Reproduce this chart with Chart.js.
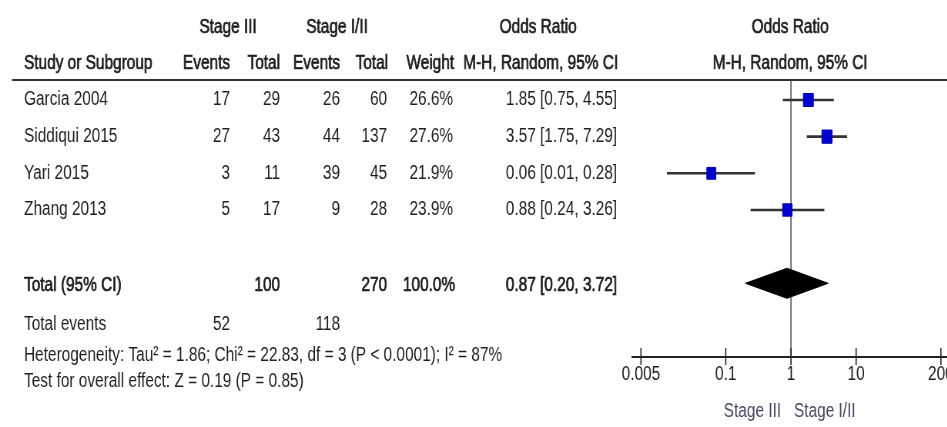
<!DOCTYPE html>
<html>
<head>
<meta charset="utf-8">
<script src="https://cdn.jsdelivr.net/npm/chart.js@4/dist/chart.umd.min.js"></script>
<style>
  html, body { margin: 0; padding: 0; background: #fff; overflow: hidden; }
  #forest { display: block; }
</style>
</head>
<body>
<canvas id="forest" width="1244" height="427" style="width:957.78px;height:427px"></canvas>
<script>
// Study data (Stage III vs Stage I/II)
const studies = ["Garcia 2004", "Siddiqui 2015", "Yari 2015", "Zhang 2013"];
const eventsStageIII = [17, 27, 3, 5];
const totalStageIII = [29, 43, 11, 17];
const eventsStageI = [26, 44, 39, 9];
const totalStageI = [60, 137, 45, 28];
const weights = [26.6, 27.6, 21.9, 23.9];
const oddsRatios = [1.85, 3.57, 0.06, 0.88];
const ciLow = [0.75, 1.75, 0.0125, 0.24];
const ciHigh = [4.55, 7.29, 0.28, 3.26];

// Pooled result
const pooledTotals = [100, 270];
const pooledWeight = 100.0;
const pooledOR = 0.87;
const pooledLow = 0.2;
const pooledHigh = 3.72;
const totalEvents = [52, 118];
const heterogeneityText = "Heterogeneity: Tau\u00b2 = 1.86; Chi\u00b2 = 22.83, df = 3 (P < 0.0001); I\u00b2 = 87%";
const overallEffectText = "Test for overall effect: Z = 0.19 (P = 0.85)";

// Axis
const tickValues = [0.005, 0.1, 1, 10, 200];
const tickLabels = ["0.005", "0.1", "1", "10", "200"];
const favoursText = "Stage III   Stage I/II";

// the picture is horizontally condensed, so draw wide and squeeze with css.
// canvas is 14px wider than the window so the "200" label runs off the edge
const SQUEEZE = 947 / 1230;
const X = (px) => px / SQUEEZE;
const FONT = "\"Liberation Sans\", Arial, sans-serif";
const TEXT = "#1e1e1e";
const TOTAL_ROW = 5;
const DIAMOND_HALF = 0.41;
const fmt2 = (v) => v.toFixed(2);

const ctx = document.getElementById("forest").getContext("2d");

const studyDatasets = studies.map((s, i) => ({
  data: [{ x: ciLow[i], y: i }, { x: ciHigh[i], y: i }],
  borderColor: "#333333",
  borderWidth: 2.6,
  pointRadius: 0,
}));

const datasets = [
  {
    data: oddsRatios.map((v, i) => ({ x: v, y: i })),
    showLine: false,
    pointStyle: "rect",
    pointRadius: (c) => 9.2 * Math.sqrt(weights[c.dataIndex] / 26.6),
    backgroundColor: "#0000cc",
    borderColor: "#0000b0",
    borderWidth: 1,
  },
  ...studyDatasets,
  {
    data: [
      { x: pooledLow, y: TOTAL_ROW },
      { x: pooledOR, y: TOTAL_ROW - DIAMOND_HALF },
      { x: pooledHigh, y: TOTAL_ROW },
    ],
    borderColor: "#000",
    borderWidth: 1,
    backgroundColor: "#000",
    pointRadius: 0,
    fill: "+1",
  },
  {
    data: [
      { x: pooledLow, y: TOTAL_ROW },
      { x: pooledOR, y: TOTAL_ROW + DIAMOND_HALF },
      { x: pooledHigh, y: TOTAL_ROW },
    ],
    borderColor: "#000",
    borderWidth: 1,
    pointRadius: 0,
    fill: false,
  },
  {
    data: [{ x: 1, y: -0.545 }, { x: 1, y: 7.01 }],
    borderColor: "#5a5a5a",
    borderWidth: 1.6,
    pointRadius: 0,
  },
];

// heavy = regular face with a thin outline, the headers look darker than the body
function txt(c, s, x, y, align, heavy) {
  c.font = "20px " + FONT;
  c.textAlign = align;
  c.textBaseline = "middle";
  c.fillStyle = TEXT;
  c.fillText(s, X(x), y);
  if (heavy) {
    c.strokeStyle = TEXT;
    c.lineWidth = 0.7;
    c.strokeText(s, X(x), y);
  }
}

const tablePlugin = {
  id: "table",
  afterDraw(chart) {
    const c = chart.ctx;
    const yScale = chart.scales.y;
    const xScale = chart.scales.x;
    c.save();

    // header rule
    c.strokeStyle = "#333";
    c.lineWidth = 2.2;
    c.beginPath();
    c.moveTo(X(12), 80);
    c.lineTo(chart.width, 80);
    c.stroke();

    // tick marks crossing the axis
    c.lineWidth = 1.6;
    c.strokeStyle = "#222";
    const axisY = xScale.top;
    tickValues.forEach((v) => {
      const px = xScale.getPixelForValue(v);
      c.beginPath();
      c.moveTo(px, axisY - 9);
      c.lineTo(px, axisY + 8);
      c.stroke();
    });

    // headers
    txt(c, "Stage III", 228, 27, "center", true);
    txt(c, "Stage I/II", 337, 27, "center", true);
    txt(c, "Odds Ratio", 538, 27, "center", true);
    txt(c, "Odds Ratio", 790, 27, "center", true);
    txt(c, "Study or Subgroup", 24, 63, "left", true);
    txt(c, "Events", 230, 63, "right", true);
    txt(c, "Total", 280, 63, "right", true);
    txt(c, "Events", 340, 63, "right", true);
    txt(c, "Total", 388, 63, "right", true);
    txt(c, "Weight", 454, 63, "right", true);
    txt(c, "M-H, Random, 95% CI", 618, 63, "right", true);
    txt(c, "M-H, Random, 95% CI", 790, 63, "center", true);

    // study rows
    studies.forEach((s, i) => {
      const y = yScale.getPixelForValue(i);
      txt(c, s, 24, y, "left");
      txt(c, String(eventsStageIII[i]), 230, y, "right");
      txt(c, String(totalStageIII[i]), 280, y, "right");
      txt(c, String(eventsStageI[i]), 340, y, "right");
      txt(c, String(totalStageI[i]), 387, y, "right");
      txt(c, weights[i].toFixed(1) + "%", 453, y, "right");
      txt(c, fmt2(oddsRatios[i]) + " [" + fmt2(ciLow[i]) + ", " + fmt2(ciHigh[i]) + "]", 617, y, "right");
    });

    // total row
    const yt = yScale.getPixelForValue(TOTAL_ROW) + 2;
    txt(c, "Total (95% CI)", 24, yt, "left", true);
    txt(c, String(pooledTotals[0]), 280, yt, "right", true);
    txt(c, String(pooledTotals[1]), 387, yt, "right", true);
    txt(c, pooledWeight.toFixed(1) + "%", 455, yt, "right", true);
    txt(c, fmt2(pooledOR) + " [" + fmt2(pooledLow) + ", " + fmt2(pooledHigh) + "]", 617, yt, "right", true);

    // footer
    txt(c, "Total events", 24, 324, "left");
    txt(c, String(totalEvents[0]), 230, 324, "right");
    txt(c, String(totalEvents[1]), 340, 324, "right");
    txt(c, heterogeneityText, 24, 355, "left");
    txt(c, overallEffectText, 24, 381, "left");

    c.restore();
  },
};

const config = {
  type: "line",
  data: { datasets },
  options: {
    responsive: false,
    animation: false,
    devicePixelRatio: 1,
    elements: { line: { tension: 0 } },
    layout: { padding: { left: X(632), top: 80, right: 14, bottom: 0 } },
    plugins: {
      legend: { display: false },
      tooltip: { enabled: false },
    },
    scales: {
      x: {
        type: "logarithmic",
        position: "bottom",
        min: 0.00366,
        max: 250,
        afterBuildTicks: (s) => {
          s.ticks = tickValues.map((v) => ({ value: v }));
        },
        afterFit: (s) => {
          s.height = 70;
        },
        grid: { display: false, drawTicks: false },
        border: { display: true, color: "#222", width: 2 },
        ticks: {
          autoSkip: false,
          maxRotation: 0,
          padding: 5,
          color: TEXT,
          font: { family: FONT, size: 20 },
          callback: (v, i) => tickLabels[i],
        },
        title: {
          display: true,
          text: favoursText,
          color: "#454560",
          font: { family: FONT, size: 20 },
          padding: { top: 0, bottom: 4 },
        },
      },
      y: {
        type: "linear",
        display: false,
        reverse: true,
        min: -0.545,
        max: 7.01,
      },
    },
  },
  plugins: [tablePlugin],
};

new Chart(ctx, config);
</script>
</body>
</html>
